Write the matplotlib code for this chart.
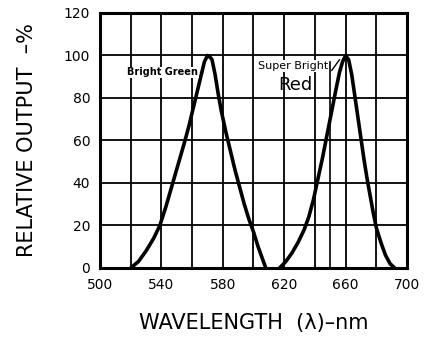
"""Relative spectral output of bright green and super bright red LEDs."""

import matplotlib

matplotlib.use("Agg")
import matplotlib.pyplot as plt

GREEN_WAVELENGTH = [520, 525, 530, 535, 539, 543, 547, 551, 555, 558, 561, 564, 566,
                    568, 570, 572, 573, 575, 577, 579, 582, 585, 588, 591, 594, 597,
                    600, 603, 606, 608]
GREEN_OUTPUT = [0, 3, 8, 14, 20, 29, 39, 49, 59, 67, 76, 85, 91,
                97, 100, 99, 98, 91, 82, 74, 64, 55, 46, 38, 30, 23,
                17, 10, 4, 0]

RED_WAVELENGTH = [617, 621, 625, 629, 633, 636, 639, 642, 645, 648, 651, 654, 656,
                  658, 660, 662, 664, 666, 668, 670, 672, 674, 676, 678, 680, 683,
                  686, 689, 692]
RED_OUTPUT = [0, 3, 7, 12, 18, 24, 32, 42, 52, 63, 74, 85, 92,
              97, 100, 98, 91, 81, 71, 61, 51, 42, 34, 26, 19, 12,
              6, 2, 0]

X_TICKS = [500, 540, 580, 620, 660, 700]
Y_TICKS = [0, 20, 40, 60, 80, 100, 120]
GRID_X = list(range(500, 701, 20))
GRID_Y = list(range(0, 121, 20))

fig = plt.figure(figsize=(4.26, 3.41), dpi=100)
ax = fig.add_axes([0.2347, 0.2141, 0.7207, 0.7478])

for gx in GRID_X:
    ax.axvline(gx, color="black", lw=1.3, zorder=1)
for gy in GRID_Y:
    ax.axhline(gy, color="black", lw=1.3, zorder=1)
# extra marker line under the red peak
ax.plot([650, 650], [0, 97], color="black", lw=1.2, zorder=1)

ax.plot(GREEN_WAVELENGTH, GREEN_OUTPUT, color="black", lw=2.6, zorder=3,
        solid_joinstyle="round", solid_capstyle="round")
ax.plot(RED_WAVELENGTH, RED_OUTPUT, color="black", lw=2.6, zorder=3,
        solid_joinstyle="round", solid_capstyle="round")

ax.text(541, 92, "Bright Green", fontsize=7, fontweight="bold",
        ha="center", va="center", zorder=4,
        bbox=dict(facecolor="white", edgecolor="none", pad=0.5))
ax.text(626, 95, "Super Bright", fontsize=8,
        ha="center", va="center", zorder=4,
        bbox=dict(facecolor="white", edgecolor="none", pad=0.5))
ax.text(627, 86, "Red", fontsize=13,
        ha="center", va="center", zorder=4)
ax.plot([651, 656], [93, 98], color="black", lw=1.0, zorder=3)

ax.set_xlim(500, 700)
ax.set_ylim(0, 120)
ax.set_xticks(X_TICKS)
ax.set_yticks(Y_TICKS)
ax.tick_params(length=0, pad=7, labelsize=10)
for spine in ax.spines.values():
    spine.set_linewidth(2.2)

ax.set_xlabel("WAVELENGTH  (λ)–nm", fontsize=15, labelpad=15)
ax.set_ylabel("RELATIVE OUTPUT  –%", fontsize=15, labelpad=19)

fig.savefig("out.png", dpi=100)
